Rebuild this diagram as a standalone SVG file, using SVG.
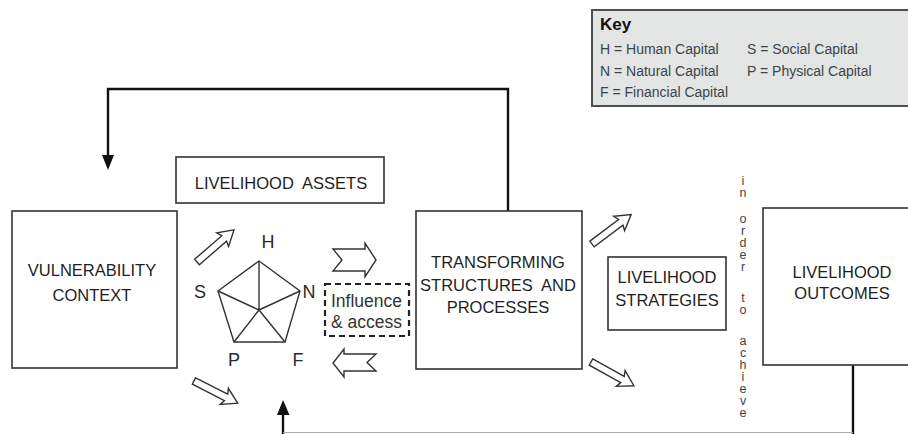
<svg xmlns="http://www.w3.org/2000/svg" xmlns:xlink="http://www.w3.org/1999/xlink" width="908" height="434" viewBox="0 0 908 434">
<style>
.box{fill:#fff;stroke:#333;stroke-width:1.6}
.t{font-family:"Liberation Sans",Arial,sans-serif;font-size:16.5px;fill:#1e1e1e;text-anchor:middle}
.lab{font-family:"Liberation Sans",Arial,sans-serif;font-size:18px;fill:#2a2a2a;text-anchor:middle}
.key{font-family:"Liberation Sans",Arial,sans-serif;font-size:14px;fill:#3c4348}
.vt{font-family:"Liberation Sans",Arial,sans-serif;font-size:12.5px;fill:#444;text-anchor:middle}
.line{fill:none;stroke:#111;stroke-width:2.4}
.head{fill:#111;stroke:none}
.hollow{fill:#fff;stroke:#333;stroke-width:1.4;stroke-linejoin:miter}
.pent{fill:none;stroke:#333;stroke-width:1.4}
</style>
<defs>
<path id="harrow" d="M0,-3.6 L36,-3.6 L34,-9 L49,0 L34,9 L36,3.6 L0,3.6 Z"/>
</defs>

<g id="key">
<rect x="592" y="10" width="330" height="96" fill="#e3e5e5" stroke="#4a4f4f" stroke-width="2"/>
<text x="600" y="30" font-family="Liberation Sans,Arial,sans-serif" font-size="17" font-weight="bold" fill="#111">Key</text>
<text class="key" x="600" y="54">H = Human Capital</text>
<text class="key" x="747" y="54">S = Social Capital</text>
<text class="key" x="600" y="76">N = Natural Capital</text>
<text class="key" x="747" y="76">P = Physical Capital</text>
<text class="key" x="600" y="97">F = Financial Capital</text>
</g>

<g id="connectors">
<path class="line" d="M508,211 L508,89 L108,89 L108,158"/>
<path class="head" d="M102,155 L114,155 L108,170 Z"/>
<path class="line" d="M283,434 L283,412"/>
<path class="head" d="M277,415 L289.5,415 L283,400 Z"/>
<path class="line" d="M853,365 L853,434"/>
<path d="M283,432.5 L853,432.5" fill="none" stroke="#aaa" stroke-width="1"/>
<use class="hollow" xlink:href="#harrow" href="#harrow" transform="translate(197,262) rotate(-41)"/>
<use class="hollow" xlink:href="#harrow" href="#harrow" transform="translate(194,381) rotate(27)"/>
<use class="hollow" xlink:href="#harrow" href="#harrow" transform="translate(592,244) rotate(-37)"/>
<use class="hollow" xlink:href="#harrow" href="#harrow" transform="translate(591,362) rotate(29)"/>
<path class="hollow" d="M333,249 L365,249 L365,243 L376,260 L365,277 L365,271 L333,271 L342,260 Z"/>
<path class="hollow" d="M376,354 L344,354 L344,349 L333,363 L344,377 L344,371 L376,371 L367,362.5 Z"/>
</g>

<g id="vulnerability">
<rect class="box" x="12" y="211" width="165" height="157"/>
<text class="t" x="92" y="276">VULNERABILITY</text>
<text class="t" x="92" y="301">CONTEXT</text>
</g>

<g id="assets">
<rect class="box" x="176" y="157" width="208" height="46"/>
<text class="t" x="281" y="189" xml:space="preserve">LIVELIHOOD  ASSETS</text>
</g>

<g id="pentagon">
<path class="pent" d="M259,261 L300,291 L285,342 L234,342 L218,291 Z"/>
<path class="pent" d="M259,261 L259,310 M300,291 L259,310 M285,342 L259,310 M234,342 L259,310 M218,291 L259,310"/>
<text class="lab" x="268" y="248">H</text>
<text class="lab" x="200" y="298">S</text>
<text class="lab" x="309" y="298">N</text>
<text class="lab" x="234" y="366">P</text>
<text class="lab" x="298" y="366">F</text>
</g>

<g id="influence">
<rect x="325" y="284" width="84" height="52" fill="#fff" stroke="#222" stroke-width="2.2" stroke-dasharray="6,4"/>
<text x="331" y="307" font-family="Liberation Sans,Arial,sans-serif" font-size="17.5" fill="#333">Influence</text>
<text x="331" y="328" font-family="Liberation Sans,Arial,sans-serif" font-size="17.5" fill="#333">&amp; access</text>
</g>

<g id="transforming">
<rect class="box" x="416" y="211" width="166" height="158"/>
<text class="t" x="498" y="268">TRANSFORMING</text>
<text class="t" x="498" y="291" xml:space="preserve">STRUCTURES  AND</text>
<text class="t" x="498" y="313">PROCESSES</text>
</g>

<g id="strategies">
<rect class="box" x="608" y="257" width="118" height="73"/>
<text class="t" x="667" y="283">LIVELIHOOD</text>
<text class="t" x="667" y="306">STRATEGIES</text>
</g>

<g id="inorder">
<text class="vt" x="743 743 743 743 743 743 743 743 743 743 743 743 743 743 743 743" y="185 197 223 235 247 259 271 302 314 345 357 369 381 393 405 417">inordertoachieve</text>
</g>

<g id="outcomes">
<rect class="box" x="763" y="208" width="160" height="157"/>
<text class="t" x="842" y="278">LIVELIHOOD</text>
<text class="t" x="842" y="299">OUTCOMES</text>
</g>
</svg>
